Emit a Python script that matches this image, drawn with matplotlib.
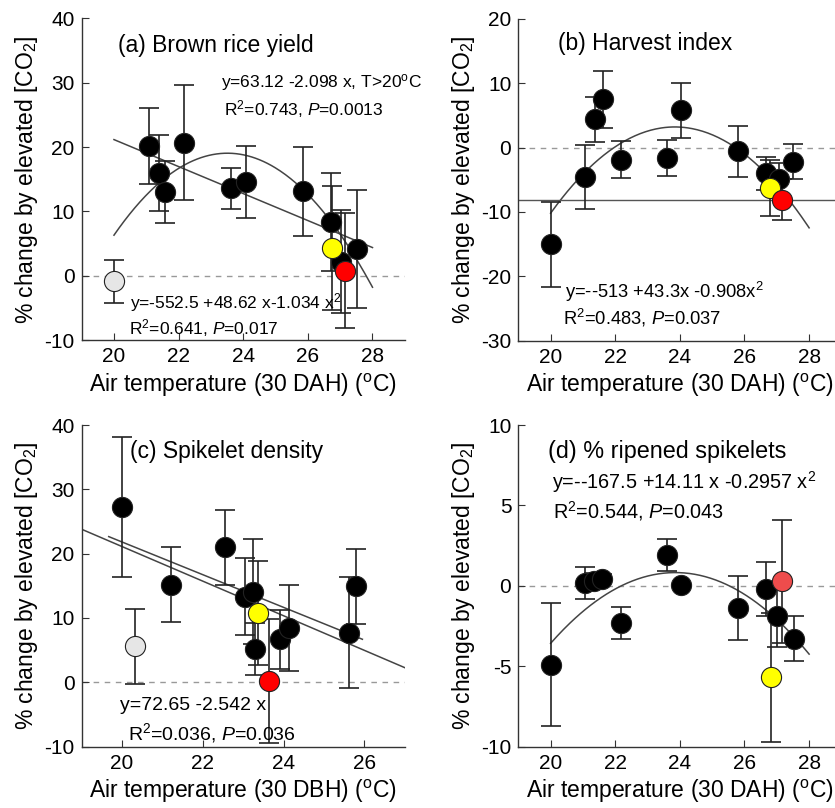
import numpy as np
import matplotlib
matplotlib.use("Agg")
from matplotlib import pyplot as plt

plt.rcParams['font.family'] = ['Liberation Sans', 'DejaVu Sans']
plt.rcParams['mathtext.fontset'] = 'custom'
plt.rcParams['mathtext.rm'] = 'Liberation Sans'
plt.rcParams['mathtext.it'] = 'Liberation Sans:italic'
plt.rcParams['axes.unicode_minus'] = False

# (a) brown rice yield vs air temp 30 DAH
a_temp = [20.0, 21.07, 21.38, 21.57, 22.17, 23.61, 24.08, 25.85, 26.71, 27.04, 27.52, 26.75, 27.16]
a_change = [-0.9, 20.1, 16.0, 13.0, 20.7, 13.6, 14.6, 13.1, 8.4, 2.2, 4.1, 4.3, 0.8]
a_err = [3.3, 5.9, 5.9, 4.8, 8.9, 3.2, 5.6, 6.9, 7.6, 8.0, 9.2, 9.7, 8.9]
a_color = ['#e6e6e6'] + ['black'] * 10 + ['#ffff00', '#ff0000']

# (b) harvest index
b_temp = [20.0, 21.06, 21.36, 21.62, 22.17, 23.61, 24.02, 25.81, 26.68, 27.07, 27.51, 26.79, 27.17]
b_change = [-15.0, -4.55, 4.4, 7.5, -1.9, -1.55, 5.8, -0.6, -4.0, -4.9, -2.2, -6.3, -8.1]
b_err = [6.6, 5.0, 3.5, 4.4, 2.9, 2.8, 4.3, 4.0, 2.6, 2.5, 2.7, 4.3, 3.2]
b_color = ['black'] * 11 + ['#ffff00', '#ff0000']

# (c) spikelet density vs air temp 30 DBH
c_temp = [20.0, 20.31, 21.2, 22.54, 23.05, 23.24, 23.29, 23.91, 24.14, 25.62, 25.79, 23.36, 23.65]
c_change = [27.3, 5.6, 15.2, 21.0, 13.3, 14.1, 5.2, 6.7, 8.5, 7.7, 14.9, 10.8, 0.2]
c_err = [10.9, 5.8, 5.8, 5.8, 6.0, 8.2, 4.0, 4.6, 6.7, 8.6, 5.8, 8.1, 9.6]
c_color = ['black', '#e6e6e6'] + ['black'] * 9 + ['#ffff00', '#ff0000']

# (d) % ripened spikelets
d_temp = [20.0, 21.05, 21.35, 21.6, 22.17, 23.61, 24.02, 25.81, 26.66, 27.02, 27.53, 26.81, 27.15]
d_change = [-4.9, 0.15, 0.3, 0.45, -2.3, 1.9, 0.06, -1.36, -0.2, -1.88, -3.3, -5.7, 0.27]
d_err = [3.8, 1.0, 0.5, 0.3, 1.0, 1.0, 0.0, 2.0, 1.7, 1.9, 1.4, 4.0, 3.8]
d_color = ['black'] * 11 + ['#ffff00', '#ee4c4c']

# fitted curves (coefficients)
a_lin = (63.12, -2.098)
a_quad = (-552.5, 48.62, -1.034)
b_quad = (-513.0, 43.3, -0.908)
b_hline = -8.2
c_lin1 = (72.65, -2.542)
c_lin2 = (74.9, -2.69)
d_quad = (-167.5, 14.11, -0.2957)

fig = plt.figure(figsize=(8.35, 8.08), dpi=100)
W, H = 0.387, 0.398
pos = {'a': [0.0978, 0.5792, W, H], 'b': [0.6207, 0.5785, W, H],
       'c': [0.0978, 0.0760, W, H], 'd': [0.6207, 0.0760, W, H]}

fitc = '#444444'


def poly(c, x):
    return sum(ci * x ** i for i, ci in enumerate(c))


def setup(ax, xlim, ylim, xticks, yticks, xlabel):
    ax.set_xlim(*xlim)
    ax.set_ylim(*ylim)
    ax.set_xticks(xticks)
    ax.set_yticks(yticks)
    ax.spines['top'].set_visible(False)
    ax.spines['right'].set_visible(False)
    for s in ('left', 'bottom'):
        ax.spines[s].set_color('#333333')
        ax.spines[s].set_linewidth(1.0)
    ax.tick_params(direction='in', length=5, labelsize=15, color='#333333', pad=5)
    ax.set_xlabel(xlabel, fontsize=16.5, labelpad=4)
    ax.set_ylabel('% change by elevated [CO$_2$]', fontsize=16.5, labelpad=3)
    ax.axhline(0, color='#999999', lw=1.0, ls=(0, (4, 4)), zorder=1)


def points(ax, x, y, e, col):
    for xi, yi, ei, ci in zip(x, y, e, col):
        ax.errorbar(xi, yi, yerr=ei, fmt='none', ecolor='#222222', elinewidth=1.2,
                    capsize=7, capthick=1.2, zorder=3)
        ax.plot(xi, yi, 'o', ms=14.5, mfc=ci, mec='#222222', mew=0.8, zorder=4)


def note(ax, x, y, s, size):
    ax.text(x, y, s, transform=ax.transAxes, fontsize=size, va='center', clip_on=False)


xl_dah = 'Air temperature (30 DAH) ($^{\\rm o}$C)'
xl_dbh = 'Air temperature (30 DBH) ($^{\\rm o}$C)'

# (a)
ax = fig.add_axes(pos['a'])
setup(ax, (19, 29), (-10, 40), [20, 22, 24, 26, 28], [-10, 0, 10, 20, 30, 40], xl_dah)
xx = np.linspace(20, 28, 200)
ax.plot(xx, poly(a_lin, xx), color=fitc, lw=1.1, zorder=2)
ax.plot(xx, poly(a_quad, xx), color=fitc, lw=1.1, zorder=2)
points(ax, a_temp, a_change, a_err, a_color)
note(ax, 0.112, 0.917, '(a) Brown rice yield', 16.5)
note(ax, 0.43, 0.80, 'y=63.12 -2.098 x, T>20$^{\\rm o}$C', 12.5)
note(ax, 0.44, 0.718, 'R$^2$=0.743, $P$=0.0013', 12.5)
note(ax, 0.15, 0.118, 'y=-552.5 +48.62 x-1.034 x$^2$', 12.5)
note(ax, 0.147, 0.036, 'R$^2$=0.641, $P$=0.017', 12.5)

# (b)
ax = fig.add_axes(pos['b'])
setup(ax, (19, 29), (-30, 20), [20, 22, 24, 26, 28], [-30, -20, -10, 0, 10, 20], xl_dah)
ax.plot(xx, poly(b_quad, xx), color=fitc, lw=1.1, zorder=2)
ax.axhline(b_hline, color='#555555', lw=1.0, zorder=2)
points(ax, b_temp, b_change, b_err, b_color)
note(ax, 0.123, 0.923, '(b) Harvest index', 16.5)
note(ax, 0.144, 0.151, 'y=--513 +43.3x -0.908x$^2$', 13.2)
note(ax, 0.138, 0.070, 'R$^2$=0.483, $P$=0.037', 13.2)

# (c)
ax = fig.add_axes(pos['c'])
setup(ax, (19, 27), (-10, 40), [20, 22, 24, 26], [-10, 0, 10, 20, 30, 40], xl_dbh)
x1 = np.linspace(19.67, 25.95, 50)
x2 = np.linspace(19, 27, 50)
ax.plot(x1, poly(c_lin1, x1), color=fitc, lw=1.1, zorder=2)
ax.plot(x2, poly(c_lin2, x2), color=fitc, lw=1.1, zorder=2)
points(ax, c_temp, c_change, c_err, c_color)
note(ax, 0.15, 0.919, '(c) Spikelet density', 16.5)
note(ax, 0.119, 0.129, 'y=72.65 -2.542 x', 14)
note(ax, 0.143, 0.042, 'R$^2$=0.036, $P$=0.036', 14)

# (d)
ax = fig.add_axes(pos['d'])
setup(ax, (19, 29), (-10, 10), [20, 22, 24, 26, 28], [-10, -5, 0, 5, 10], xl_dah)
ax.plot(xx, poly(d_quad, xx), color=fitc, lw=1.1, zorder=2)
points(ax, d_temp, d_change, d_err, d_color)
note(ax, 0.092, 0.919, '(d) % ripened spikelets', 16.8)
note(ax, 0.104, 0.823, 'y=--167.5 +14.11 x -0.2957 x$^2$', 14.3)
note(ax, 0.107, 0.733, 'R$^2$=0.544, $P$=0.043', 14.3)

fig.savefig('out.png', dpi=100)
